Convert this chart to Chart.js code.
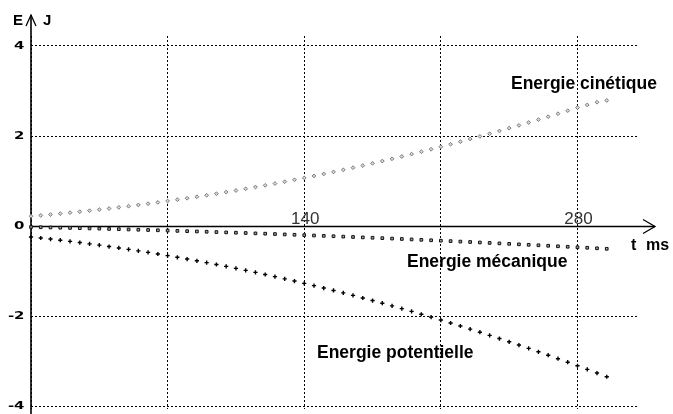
<!DOCTYPE html>
<html lang="fr">
<head>
<meta charset="UTF-8">
<title>Energies</title>
<script src="https://cdn.jsdelivr.net/npm/chart.js"></script>
<style>
  body { margin: 0; background: #fff; }
  #wrap { width: 673px; height: 414px; }
</style>
</head>
<body>
<div id="wrap"><canvas id="chart" width="673" height="414"></canvas></div>
<script>
// temps en ms
const times = [0, 5, 10, 15, 20, 25, 30, 35, 40, 45, 50, 55, 60, 65, 70, 75, 80, 85, 90, 95,
  100, 105, 110, 115, 120, 125, 130, 135, 140, 145, 150, 155, 160, 165, 170, 175, 180, 185, 190, 195,
  200, 205, 210, 215, 220, 225, 230, 235, 240, 245, 250, 255, 260, 265, 270, 275, 280, 285, 290, 295];

// énergies en J
const eCinetique = [0.220, 0.238, 0.257, 0.277, 0.298, 0.320, 0.343, 0.366, 0.391, 0.416,
  0.442, 0.470, 0.498, 0.527, 0.557, 0.587, 0.619, 0.652, 0.685, 0.720,
  0.755, 0.791, 0.828, 0.867, 0.905, 0.945, 0.986, 1.028, 1.070, 1.114,
  1.158, 1.204, 1.250, 1.297, 1.345, 1.394, 1.444, 1.494, 1.546, 1.599,
  1.652, 1.706, 1.762, 1.818, 1.875, 1.933, 1.992, 2.051, 2.112, 2.174,
  2.236, 2.300, 2.364, 2.429, 2.495, 2.562, 2.630, 2.690, 2.750, 2.790];

const eMecanique = [-0.020, -0.025, -0.030, -0.035, -0.040, -0.045, -0.051, -0.056, -0.062, -0.068,
  -0.074, -0.080, -0.086, -0.092, -0.099, -0.105, -0.112, -0.118, -0.125, -0.132,
  -0.139, -0.146, -0.153, -0.161, -0.168, -0.176, -0.184, -0.192, -0.200, -0.208,
  -0.216, -0.224, -0.233, -0.241, -0.250, -0.258, -0.267, -0.276, -0.285, -0.295,
  -0.304, -0.314, -0.323, -0.333, -0.343, -0.352, -0.363, -0.373, -0.383, -0.393,
  -0.404, -0.414, -0.425, -0.436, -0.447, -0.458, -0.469, -0.480, -0.492, -0.503];

const ePotentielle = [-0.240, -0.263, -0.287, -0.312, -0.338, -0.365, -0.393, -0.422, -0.453, -0.484,
  -0.516, -0.549, -0.583, -0.619, -0.655, -0.692, -0.731, -0.770, -0.810, -0.852,
  -0.894, -0.937, -0.982, -1.027, -1.074, -1.121, -1.170, -1.219, -1.270, -1.321,
  -1.374, -1.428, -1.482, -1.538, -1.595, -1.652, -1.711, -1.771, -1.831, -1.893,
  -1.956, -2.020, -2.085, -2.150, -2.217, -2.285, -2.354, -2.424, -2.495, -2.567,
  -2.640, -2.714, -2.789, -2.865, -2.942, -3.020, -3.099, -3.179, -3.261, -3.343];

const xTickLabels = [140, 280];
const yTickLabels = [4, 2, 0, -2, -4];

const toPoints = vals => times.map((t, i) => ({ x: t, y: vals[i] }));

// axes avec flèches + textes
const decor = {
  id: 'decor',
  beforeDatasetsDraw(chart) {
    const { ctx, scales: { x, y } } = chart;
    const x0 = x.getPixelForValue(0);
    const y0 = Math.round(y.getPixelForValue(0)) + 0.5;
    ctx.save();
    ctx.strokeStyle = '#000';
    ctx.lineWidth = 1.6;
    ctx.beginPath();
    ctx.moveTo(x0, chart.height);
    ctx.lineTo(x0, 15);
    ctx.moveTo(x0, y0);
    ctx.lineTo(655, y0);
    ctx.stroke();
    ctx.lineWidth = 1.3;
    ctx.beginPath();
    ctx.moveTo(x0 - 5, 26); ctx.lineTo(x0, 15); ctx.lineTo(x0 + 5, 26);
    ctx.moveTo(643, y0 - 7); ctx.lineTo(655, y0); ctx.lineTo(643, y0 + 7);
    ctx.stroke();
    ctx.restore();
  },
  afterDraw(chart) {
    const { ctx, scales: { x, y } } = chart;
    const y0 = y.getPixelForValue(0);
    ctx.save();
    ctx.fillStyle = '#000';

    // graduations de l'axe vertical
    ctx.textAlign = 'right';
    ctx.textBaseline = 'middle';
    ctx.font = 'bold 13px "DejaVu Sans"';
    yTickLabels.forEach(v => {
      ctx.save();
      ctx.translate(24.5, y.getPixelForValue(v));
      ctx.scale(1.15, 0.82);
      ctx.fillText(String(v), 0, 0);
      ctx.restore();
    });

    // graduations de l'axe du temps
    ctx.fillStyle = '#333';
    ctx.textAlign = 'center';
    ctx.textBaseline = 'alphabetic';
    ctx.font = '17px "Liberation Sans"';
    xTickLabels.forEach(v => ctx.fillText(String(v), x.getPixelForValue(v) + 1, y0 - 2.5));

    ctx.fillStyle = '#000';
    ctx.textAlign = 'left';
    ctx.font = 'bold 15px "Liberation Sans"';
    ctx.fillText('E', 13, 25);
    ctx.fillText('J', 43, 25);
    ctx.font = 'bold 16px "Liberation Sans"';
    ctx.fillText('t', 631, 250);
    ctx.fillText('ms', 646, 250);

    ctx.font = 'bold 17.5px "Liberation Sans"';
    ctx.fillText('Energie cinétique', 511, 89);
    ctx.fillText('Energie mécanique', 407, 267);
    ctx.fillText('Energie potentielle', 317, 358);
    ctx.restore();
  }
};

const gridOpts = { color: '#000', lineWidth: 1, drawTicks: false };

new Chart(document.getElementById('chart'), {
  type: 'scatter',
  data: {
    datasets: [
      {
        label: 'Energie cinétique',
        data: toPoints(eCinetique),
        pointStyle: 'rectRot',
        pointRadius: 1.9,
        backgroundColor: '#d8d8d8',
        borderColor: '#7a7a7a',
        borderWidth: 1,
        clip: false
      },
      {
        label: 'Energie mécanique',
        data: toPoints(eMecanique),
        pointStyle: 'rect',
        pointRadius: 1.9,
        backgroundColor: '#a0a0a0',
        borderColor: '#111',
        borderWidth: 1,
        clip: false
      },
      {
        label: 'Energie potentielle',
        data: toPoints(ePotentielle),
        pointStyle: 'cross',
        pointRadius: 2.1,
        borderColor: '#000',
        borderWidth: 1.4,
        clip: false
      }
    ]
  },
  options: {
    responsive: false,
    animation: false,
    layout: { padding: { left: 31, right: 36, top: 36, bottom: 0 } },
    plugins: { legend: { display: false }, tooltip: { enabled: false } },
    scales: {
      x: {
        type: 'linear', min: 0, max: 310.5,
        ticks: { display: false, stepSize: 70, includeBounds: false },
        grid: gridOpts,
        border: { display: false, dash: [2, 2] }
      },
      y: {
        type: 'linear', min: -4.05, max: 4.22,
        ticks: { display: false, stepSize: 2, includeBounds: false },
        grid: gridOpts,
        border: { display: false, dash: [2, 2] }
      }
    }
  },
  plugins: [decor]
});
</script>
</body>
</html>
